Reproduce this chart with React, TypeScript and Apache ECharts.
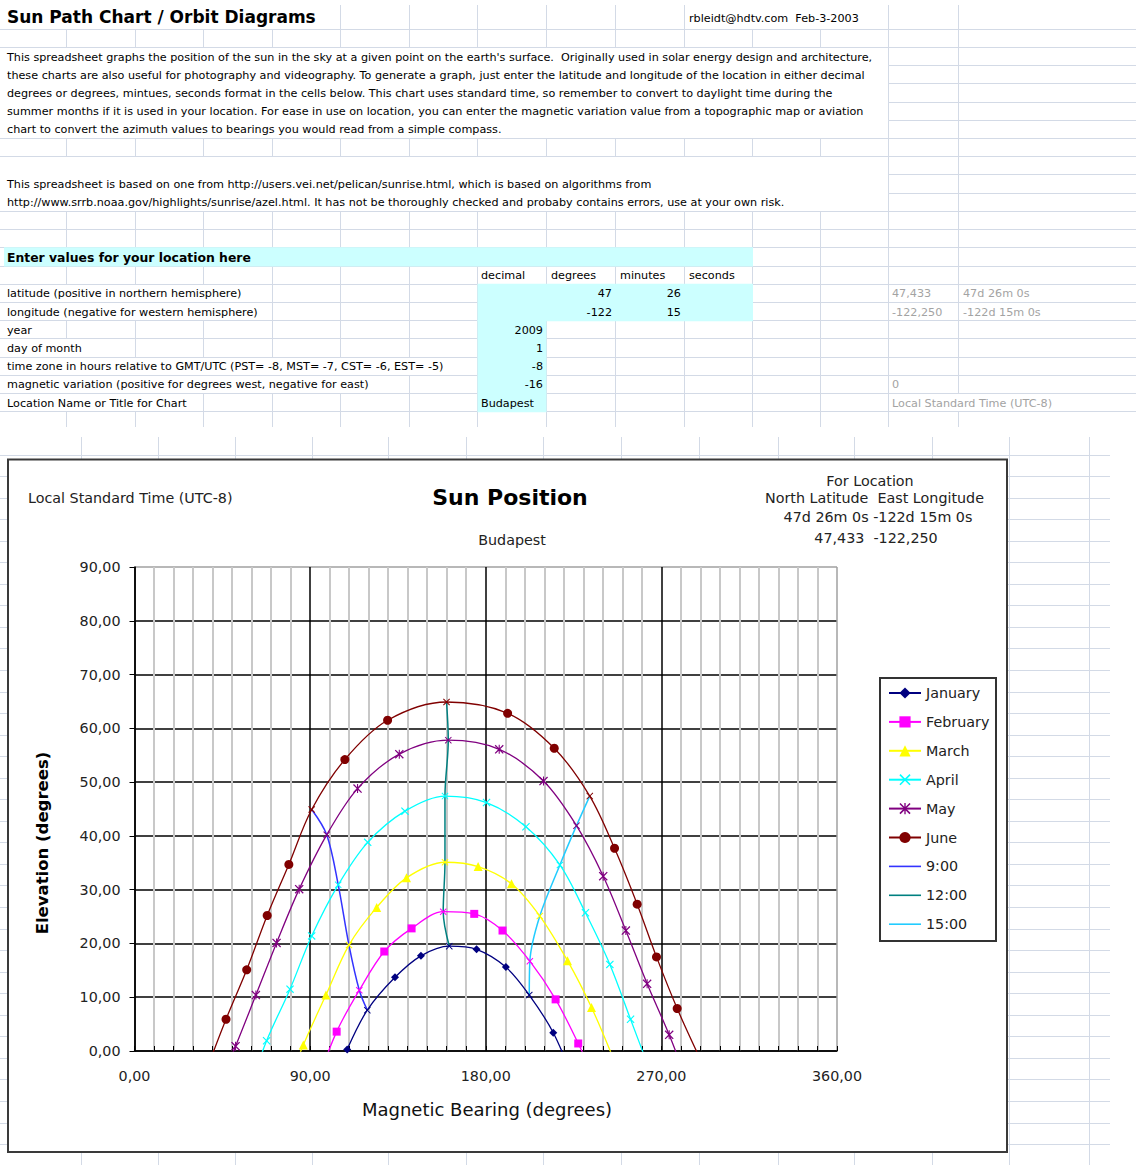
import React, { useEffect, useRef } from "react";
import * as echarts from "echarts";

const W = 1136;
const H = 1165;

// ---------------- data ----------------
const monthNames = ["January", "February", "March", "April", "May", "June"];
const monthStartHours = [7, 7, 6, 5, 4, 4];
const januaryBearing = [100.0, 109.0, 119.3, 133.5, 146.8, 161.3, 175.3, 190.3, 202.3, 214.6, 224.5];
const januaryElevation = [-8.0, 0.3, 7.6, 13.7, 17.7, 19.5, 18.9, 15.6, 10.4, 3.4, -5.0];
const februaryBearing = [93.0, 103.6, 115.2, 128.0, 142.0, 158.2, 174.1, 188.6, 202.6, 215.8, 227.4, 238.0];
const februaryElevation = [-6.5, 3.6, 11.3, 18.5, 22.8, 25.9, 25.5, 22.4, 16.7, 9.6, 1.4, -7.0];
const marchBearing = [75.5, 86.5, 98.1, 109.9, 124.1, 139.4, 159.1, 176.1, 193.2, 207.7, 221.9, 234.2, 245.5];
const marchElevation = [-9.0, 1.1, 10.4, 19.7, 26.7, 32.2, 35.1, 34.3, 31.1, 25.1, 16.8, 8.1, -1.5];
const aprilBearing = [58.5, 67.7, 79.7, 90.8, 104.4, 119.5, 138.6, 159.1, 180.4, 200.6, 218.0, 231.1, 243.6, 254.2, 264.5];
const aprilElevation = [-7.5, 1.9, 11.5, 21.4, 30.9, 38.8, 44.6, 47.4, 46.2, 41.7, 34.6, 25.7, 16.1, 5.9, -4.0];
const mayBearing = [41.5, 51.8, 62.2, 72.8, 84.4, 98.5, 114.3, 135.7, 160.8, 186.9, 209.6, 226.5, 240.2, 251.8, 262.7, 274.0, 283.5];
const mayElevation = [-8.0, 0.9, 10.4, 20.1, 30.1, 40.2, 48.8, 55.2, 57.8, 56.1, 50.2, 41.9, 32.5, 22.4, 12.5, 3.0, -6.0];
const juneBearing = [38.5, 46.9, 57.5, 68.0, 79.1, 90.8, 107.8, 129.7, 159.9, 191.2, 215.1, 233.3, 246.0, 257.6, 267.5, 278.1, 289.5];
const juneElevation = [-2.0, 5.9, 15.1, 25.2, 34.7, 44.9, 54.2, 61.5, 64.9, 62.8, 56.3, 47.4, 37.7, 27.3, 17.5, 7.9, -1.2];
const timeNames = ["9:00", "12:00", "15:00"];
const timeHours = [9, 12, 15];

const chartTitle = "Sun Position";
const chartSubtitle = "Budapest";
const timeNote = "Local Standard Time (UTC-8)";
const locationLines = ["For Location", "North Latitude  East Longitude", "47d 26m 0s -122d 15m 0s", "47,433  -122,250"];
const xAxisTitle = "Magnetic Bearing (degrees)";
const yAxisTitle = "Elevation (degrees)";

const paragraph1 = [
  "This spreadsheet graphs the position of the sun in the sky at a given point on the earth's surface.  Originally used in solar energy design and architecture,",
  "these charts are also useful for photography and videography. To generate a graph, just enter the latitude and longitude of the location in either decimal",
  "degrees or degrees, mintues, seconds format in the cells below. This chart uses standard time, so remember to convert to daylight time during the",
  "summer months if it is used in your location. For ease in use on location, you can enter the magnetic variation value from a topographic map or aviation",
  "chart to convert the azimuth values to bearings you would read from a simple compass.",
];
const paragraph2 = [
  "This spreadsheet is based on one from http://users.vei.net/pelican/sunrise.html, which is based on algorithms from",
  "http://www.srrb.noaa.gov/highlights/sunrise/azel.html. It has not be thoroughly checked and probaby contains errors, use at your own risk.",
];
const inputLabels = [
  "latitude (positive in northern hemisphere)",
  "longitude (negative for western hemisphere)",
  "year",
  "day of month",
  "time zone in hours relative to GMT/UTC (PST= -8, MST= -7, CST= -6, EST= -5)",
  "magnetic variation (positive for degrees west, negative for east)",
  "Location Name or Title for Chart",
];
const inputHeaders = ["decimal", "degrees", "minutes", "seconds"];

// ---------------- styling helpers ----------------
const monthColors = ["#000080", "#FF00FF", "#FFFF00", "#00FFFF", "#800080", "#800000"];
const timeColors = ["#3333FF", "#008080", "#22CCFF"];
const X_SHAPE = "M0,1L1,0L5,4L9,0L10,1L6,5L10,9L9,10L5,6L1,10L0,9L4,5Z";
const STAR_SHAPE = X_SHAPE + "M4.4,0L5.6,0L5.6,10L4.4,10Z";
const LINE_ICON = "path://M0,0L32,0L32,1.6L0,1.6Z";
const monthSymbols = ["diamond", "rect", "triangle", "path://" + X_SHAPE, "path://" + STAR_SHAPE, "circle"];
const monthSymbolSizes = [8, 8, 9, 8, 9, 9];

const GRIDC = "#d3dae6";
const SHEET_FONT = '11.2px "DejaVu Sans"';
const CHART_FONT = '"DejaVu Sans"';

const fmt = (v: number) => v.toFixed(2).replace(".", ",");
const px = (v: number) => Math.round(v - 0.5) + 0.5;

function hLine(x1: number, x2: number, y: number, z = -3, color = GRIDC) {
  return { type: "line", silent: true, z, shape: { x1, y1: px(y), x2, y2: px(y) }, style: { stroke: color, lineWidth: 1 } };
}
function vLine(x: number, y1: number, y2: number, z = -3, color = GRIDC) {
  return { type: "line", silent: true, z, shape: { x1: px(x), y1, x2: px(x), y2 }, style: { stroke: color, lineWidth: 1 } };
}
function text(t: string, x: number, y: number, font: string, fill = "#000", align = "left", z = -1, extra: any = {}) {
  return {
    type: "text",
    silent: true,
    z,
    x,
    y,
    ...extra,
    style: { text: t, font, fill, align, verticalAlign: "middle", textAlign: align, textVerticalAlign: "middle" },
  };
}

function buildGraphics() {
  const els: any[] = [];
  // upper sheet
  const cols = [66.5, 135, 203.5, 272, 340.5, 409, 477.5, 546, 615, 684, 752.5, 820.5, 888.5, 958.5];
  const rowY = (k: number) => 29.3 + 18.21 * k;
  const hidden: Record<number, number[]> = {
    0: [0, 1, 2, 3, 10, 11],
    13: [0, 1, 2, 3, 4, 5, 6, 7, 8, 9],
    15: [0, 1, 2, 7, 8, 9],
    16: [0, 1, 2, 7, 8, 9],
    18: [0],
    19: [0, 1, 2, 3, 4, 5],
    20: [0, 1, 2, 3, 4],
    21: [0, 1, 13],
  };
  for (const b of [2, 3, 4, 5, 6, 8, 9, 10]) hidden[b] = [0, 1, 2, 3, 4, 5, 6, 7, 8, 9, 10, 11];
  for (let b = 0; b <= 22; b++) {
    const y1 = b === 0 ? 5 : rowY(b - 1);
    const y2 = b === 22 ? 427 : rowY(b);
    const hid = hidden[b] || [];
    cols.forEach((c, i) => {
      if (!hid.includes(i)) els.push(vLine(c, y1, y2));
    });
  }
  for (let k = 0; k <= 21; k++) {
    if ([2, 3, 4, 5, 8, 9].includes(k)) els.push(hLine(888.5, W, rowY(k)));
    else els.push(hLine(0, W, rowY(k)));
  }
  // cyan input cells
  const cyan = (x1: number, y1: number, x2: number, y2: number) => ({
    type: "rect", silent: true, z: -2.5, shape: { x: x1, y: y1, width: x2 - x1, height: y2 - y1 }, style: { fill: "#CCFFFF" },
  });
  els.push(cyan(4, rowY(12) - 0.5, 753, rowY(13) + 0.5));
  els.push(cyan(477.5, rowY(14) - 0.5, 753, rowY(16) + 0.5));
  els.push(cyan(477.5, rowY(16) - 0.5, 546.5, rowY(21) + 0.5));

  // upper sheet texts
  els.push(text("Sun Path Chart / Orbit Diagrams", 7, 16.5, 'bold 17px "DejaVu Sans"'));
  els.push(text("rbleidt@hdtv.com  Feb-3-2003", 689, 18, SHEET_FONT));
  paragraph1.forEach((l, i) => els.push(text(l, 7, 57 + 18.2 * i, SHEET_FONT)));
  paragraph2.forEach((l, i) => els.push(text(l, 7, 184 + 18.2 * i, SHEET_FONT)));
  const band = (b: number) => (rowY(b - 1) + rowY(b)) / 2 + 0.5;
  els.push(text("Enter values for your location here", 7, band(13), 'bold 12.4px "DejaVu Sans"'));
  [481, 551, 620, 689].forEach((x, i) => els.push(text(inputHeaders[i], x, band(14), SHEET_FONT)));
  inputLabels.forEach((l, i) => els.push(text(l, 7, band(15 + i), SHEET_FONT)));
  els.push(text("47", 612, band(15), SHEET_FONT, "#000", "right"));
  els.push(text("26", 681, band(15), SHEET_FONT, "#000", "right"));
  els.push(text("-122", 612, band(16), SHEET_FONT, "#000", "right"));
  els.push(text("15", 681, band(16), SHEET_FONT, "#000", "right"));
  els.push(text("2009", 543, band(17), SHEET_FONT, "#000", "right"));
  els.push(text("1", 543, band(18), SHEET_FONT, "#000", "right"));
  els.push(text("-8", 543, band(19), SHEET_FONT, "#000", "right"));
  els.push(text("-16", 543, band(20), SHEET_FONT, "#000", "right"));
  els.push(text("Budapest", 481, band(21), SHEET_FONT));
  const gray = "#a3a3a3";
  els.push(text("47,433", 892, band(15), SHEET_FONT, gray));
  els.push(text("47d 26m 0s", 963, band(15), SHEET_FONT, gray));
  els.push(text("-122,250", 892, band(16), SHEET_FONT, gray));
  els.push(text("-122d 15m 0s", 963, band(16), SHEET_FONT, gray));
  els.push(text("0", 892, band(20), SHEET_FONT, gray));
  els.push(text("Local Standard Time (UTC-8)", 892, band(21), SHEET_FONT, gray));

  // lower sheet grid
  const lcols = [81, 158, 235, 312, 388, 466, 543, 621, 699, 778, 854, 932, 1009, 1089];
  lcols.forEach((c) => els.push(vLine(c, 437, H)));
  for (let y = 455; y < H; y += 21.55) els.push(hLine(0, 1110, y));

  // chart box
  els.push({
    type: "rect", silent: true, z: -2,
    shape: { x: 8, y: 459.5, width: 999, height: 692.5 },
    style: { fill: "#fff", stroke: "#3a3a3a", lineWidth: 2 },
  });
  // legend box
  els.push({
    type: "rect", silent: true, z: 1,
    shape: { x: 880, y: 678, width: 116, height: 263 },
    style: { fill: "#fff", stroke: "#333", lineWidth: 2 },
  });

  // chart texts
  const cf = (s: number, bold = false) => `${bold ? "bold " : ""}${s}px ${CHART_FONT}`;
  els.push(text(timeNote, 28, 498, cf(14.3), "#222", "left", 1));
  els.push(text(chartTitle, 510, 497, cf(22, true), "#000", "center", 1));
  els.push(text(chartSubtitle, 512, 540, cf(14.3), "#222", "center", 1));
  els.push(text(locationLines[0], 870, 481, cf(14.3), "#222", "center", 1));
  els.push(text(locationLines[1], 874.5, 498, cf(14.3), "#222", "center", 1));
  els.push(text(locationLines[2], 878, 517, cf(14.3), "#222", "center", 1));
  els.push(text(locationLines[3], 876, 538, cf(14.3), "#222", "center", 1));
  els.push(text(xAxisTitle, 487, 1109, cf(18), "#111", "center", 1));
  els.push(text(yAxisTitle, 42, 843, cf(16.5, true), "#000", "center", 1, { rotation: Math.PI / 2 }));
  return els;
}

function buildSeries() {
  const bearings = [januaryBearing, februaryBearing, marchBearing, aprilBearing, mayBearing, juneBearing];
  const elevations = [januaryElevation, februaryElevation, marchElevation, aprilElevation, mayElevation, juneElevation];
  const series: any[] = [];
  monthNames.forEach((name, m) => {
    const data = bearings[m].map((b, i) => {
      const hour = monthStartHours[m] + i;
      const item: any = { value: [b, elevations[m][i]] };
      if (timeHours.includes(hour)) {
        item.symbol = "path://" + X_SHAPE;
        item.symbolSize = 7;
      }
      return item;
    });
    series.push({
      type: "line",
      name,
      data,
      smooth: 0.33,
      clip: true,
      symbol: monthSymbols[m],
      symbolSize: monthSymbolSizes[m],
      showSymbol: true,
      lineStyle: { color: monthColors[m], width: 1.3 },
      itemStyle: { color: monthColors[m] },
      emphasis: { disabled: true },
      z: 3,
    });
  });
  timeNames.forEach((name, t) => {
    const data = monthNames.map((_, m) => {
      const i = timeHours[t] - monthStartHours[m];
      return [bearings[m][i], elevations[m][i]];
    });
    series.push({
      type: "line",
      name,
      data,
      smooth: 0.33,
      clip: true,
      symbol: "none",
      lineStyle: { color: timeColors[t], width: 1.5 },
      itemStyle: { color: timeColors[t] },
      emphasis: { disabled: true },
      z: 2,
    });
  });
  return series;
}

function buildOption(): any {
  const labelStyle = { fontFamily: "DejaVu Sans", fontSize: 14.3, color: "#222" };
  return {
    animation: false,
    backgroundColor: "#fff",
    graphic: { elements: buildGraphics() },
    grid: { left: 134.5, top: 567, width: 702.5, height: 484, containLabel: false },
    legend: {
      orient: "vertical",
      left: 880,
      top: 678,
      padding: [8, 8, 10, 8],
      itemWidth: 32,
      itemHeight: 14,
      itemGap: 14.9,
      selectedMode: false,
      textStyle: { fontFamily: "DejaVu Sans", fontSize: 14.3, color: "#222", lineHeight: 14 },
      data: [...monthNames, ...timeNames.map((n) => ({ name: n, icon: LINE_ICON }))],
      z: 5,
    },
    xAxis: {
      type: "value",
      min: 0,
      max: 360,
      interval: 90,
      axisLine: { show: true, lineStyle: { color: "#000", width: 1.5 } },
      axisTick: { show: true, inside: true, length: 5, lineStyle: { color: "#000" } },
      minorTick: { show: true, splitNumber: 9, length: 5, lineStyle: { color: "#000" } },
      axisLabel: { ...labelStyle, margin: 18, formatter: fmt },
      splitLine: { show: true, lineStyle: { color: ["#000", "#000", "#000", "#000", "#a0a0a0"], width: 1.5 } },
      minorSplitLine: { show: true, lineStyle: { color: "#c8c8c8", width: 2 } },
    },
    yAxis: {
      type: "value",
      min: 0,
      max: 90,
      interval: 10,
      axisLine: { show: true, lineStyle: { color: "#000", width: 1.5 } },
      axisTick: { show: true, inside: false, length: 5, lineStyle: { color: "#000" } },
      axisLabel: { ...labelStyle, margin: 14, formatter: fmt },
      splitLine: {
        show: true,
        lineStyle: { color: ["#000", "#000", "#000", "#000", "#000", "#000", "#000", "#000", "#000", "#a0a0a0"], width: 1.5 },
      },
    },
    series: buildSeries(),
  };
}

export default function App() {
  const ref = useRef<HTMLDivElement>(null);
  useEffect(() => {
    const chart = echarts.init(ref.current as HTMLDivElement, null, { renderer: "svg", width: W, height: H });
    chart.setOption(buildOption());
    return () => chart.dispose();
  }, []);
  return <div ref={ref} style={{ position: "absolute", left: 0, top: 0, width: W, height: H, background: "#fff" }} />;
}
